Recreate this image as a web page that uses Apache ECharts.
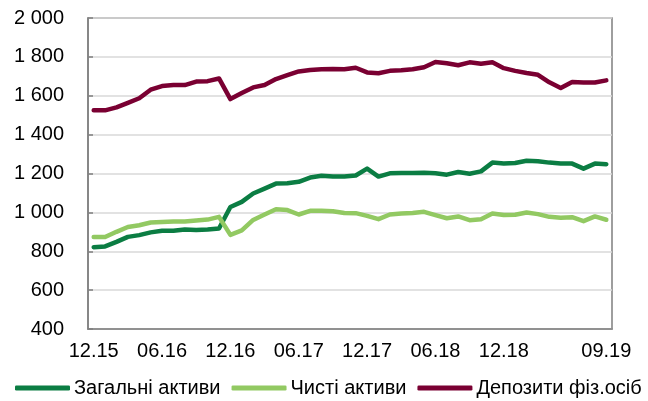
<!DOCTYPE html>
<html>
<head>
<meta charset="utf-8">
<script src="https://cdn.jsdelivr.net/npm/echarts@6/dist/echarts.min.js"></script>
<style>
  html, body { margin: 0; padding: 0; background: #fff; }
  #chart { width: 648px; height: 401px; }
</style>
</head>
<body>
<div id="chart"></div>
<script>
const months = [
  '12.15', '01.16', '02.16', '03.16', '04.16', '05.16', '06.16', '07.16', '08.16', '09.16', '10.16', '11.16',
  '12.16', '01.17', '02.17', '03.17', '04.17', '05.17', '06.17', '07.17', '08.17', '09.17', '10.17', '11.17',
  '12.17', '01.18', '02.18', '03.18', '04.18', '05.18', '06.18', '07.18', '08.18', '09.18', '10.18', '11.18',
  '12.18', '01.19', '02.19', '03.19', '04.19', '05.19', '06.19', '07.19', '08.19', '09.19'
]

const totalAssets = [
  821, 825, 848, 874, 883, 897, 905, 905, 912, 909, 912, 917,
  1028, 1054, 1097, 1122, 1148, 1150, 1157, 1179, 1188, 1184, 1184, 1190,
  1225, 1184, 1201, 1202, 1202, 1204, 1201, 1194, 1208, 1199, 1211, 1256,
  1251, 1254, 1266, 1263, 1256, 1251, 1251, 1225, 1251, 1248
]

const netAssets = [
  873, 873, 900, 925, 934, 948, 951, 953, 953, 958, 963, 977,
  884, 907, 961, 989, 1016, 1012, 989, 1008, 1008, 1006, 997, 996,
  982, 965, 989, 994, 997, 1003, 986, 970, 979, 960, 965, 994,
  986, 988, 999, 991, 977, 972, 975, 955, 979, 962
]

const householdDeposits = [
  1525, 1525, 1540, 1563, 1587, 1631, 1650, 1655, 1655, 1673, 1675, 1689,
  1583, 1614, 1643, 1655, 1686, 1706, 1725, 1733, 1736, 1738, 1736, 1744,
  1720, 1716, 1728, 1731, 1736, 1747, 1774, 1767, 1757, 1772, 1765, 1772,
  1742, 1728, 1717, 1708, 1669, 1640, 1671, 1668, 1668, 1679
]

const seriesNames = ['Загальні активи', 'Чисті активи', 'Депозити фіз.осіб']
const seriesColors = ['#0b7d43', '#92c962', '#7a0032']
const labelIdx = [0, 6, 12, 18, 24, 30, 36, 45]

const fontFamily = '"Liberation Sans", Arial, sans-serif'
const axisGray = '#7f7f7f'

const fmtThousands = (v) => {
  if (v < 1000) return String(v)
  return Math.floor(v / 1000) + ' ' + String(v % 1000).padStart(3, '0')
}

const chart = echarts.init(document.getElementById('chart'), null, { renderer: 'canvas' })

const mkSeries = (name, data, color) => ({
  name,
  type: 'line',
  data,
  symbol: 'none',
  smooth: false,
  lineStyle: { color, width: 4.5, cap: 'round', join: 'round' },
  itemStyle: { color },
})

chart.setOption({
  animation: false,
  backgroundColor: '#fff',
  grid: {
    left: 88,
    right: 36,
    top: 18,
    bottom: 72,
    show: true,
    borderColor: axisGray,
    borderWidth: 1.5,
  },
  legend: {
    bottom: 3,
    left: 15,
    right: 0,
    padding: 0,
    icon: 'roundRect',
    itemWidth: 55,
    itemHeight: 5,
    itemGap: 11,
    textStyle: { color: '#000', fontSize: 20, fontFamily, padding: [0, 0, 0, -1] },
    data: seriesNames,
  },
  xAxis: {
    type: 'category',
    data: months,
    boundaryGap: true,
    axisLine: { lineStyle: { color: axisGray, width: 1.5 } },
    axisTick: {
      inside: true,
      length: 5,
      interval: (idx) => idx > 0 && idx % 6 === 0,
      lineStyle: { color: axisGray, width: 1.5 },
    },
    axisLabel: {
      interval: (idx) => labelIdx.includes(idx),
      color: '#000',
      fontSize: 20,
      fontFamily,
      margin: 12,
    },
    splitLine: { show: false },
  },
  yAxis: {
    type: 'value',
    min: 400,
    max: 2000,
    interval: 200,
    axisLine: { show: true, lineStyle: { color: axisGray, width: 1.5 } },
    axisTick: { show: true, inside: true, length: 5, lineStyle: { color: axisGray, width: 1.5 } },
    axisLabel: {
      color: '#000',
      fontSize: 20,
      fontFamily,
      margin: 24,
      formatter: fmtThousands,
    },
    splitLine: { lineStyle: { color: '#d9d9d9', width: 1.5 } },
  },
  series: [
    mkSeries(seriesNames[0], totalAssets, seriesColors[0]),
    mkSeries(seriesNames[1], netAssets, seriesColors[1]),
    mkSeries(seriesNames[2], householdDeposits, seriesColors[2]),
  ],
})
</script>
</body>
</html>
